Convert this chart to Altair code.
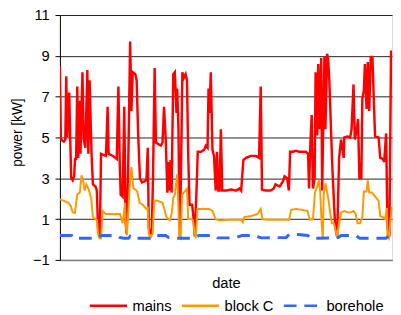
import altair as alt
import pandas as pd

# ---- data (hour index over two weeks, power in kW) ----
mains_hour = [
    0, 1, 4, 5.5, 6.5, 7.5, 9.5, 10.5, 11.5, 13,
    14.5, 15.5, 16.5, 17.7, 18.7, 19.7, 21, 23, 24.3, 26,
    28, 29, 30.3, 31.5, 32.3, 33.7, 36.3, 37.7, 39, 40.7,
    42, 47, 48.7, 49.7, 54, 58, 59.7, 61, 62, 64,
    65.7, 67, 68, 69.5, 71.7, 73, 74.3, 77, 78.3, 80,
    81.7, 83.7, 86.3, 88.3, 89.7, 90.7, 92, 93.7, 95, 96.7,
    98, 101.3, 103, 104.7, 106.3, 108, 109.7, 110.7, 111.7, 113,
    114, 115.7, 117.3, 119, 119.7, 121, 122.3, 123.5, 125, 126.3,
    128.3, 129.7, 131, 132.3, 135, 136.7, 137.7, 139.5, 140.7, 144,
    147.3, 149, 150.7, 151.7, 152.7, 154, 155.7, 157.3, 159, 160.3,
    161.7, 163, 164.3, 165.7, 170, 175, 180, 183.3, 185, 187.3,
    190, 195, 200, 203.3, 205, 206.3, 210, 215, 218.3, 220,
    224.3, 227.7, 229.3, 232, 233.7, 235, 237.7, 241, 244.3, 251,
    253.3, 254.3, 255.7, 257, 258.3, 260, 261, 262.7, 263.7, 265.3,
    266.7, 267.7, 268.7, 270, 271, 272.7, 273.7, 275, 276.7, 278.3,
    281, 283, 285, 287, 289.7, 290.3, 293.7, 296.3, 297.7, 299.7,
    301, 303, 304.3, 305.7, 307.7, 308.7, 310.3, 311.3, 313, 314.3,
    315.7, 317.3, 319, 320.3, 321.7, 325.3, 327, 329.7, 331, 333,
    334.3, 336.3, 338, 339,
]
mains_kw = [
    8.5, 4.9, 4.8, 4.9, 8.0, 5.0, 7.2, 5.0, 3.0, 2.9,
    3.1, 4.0, 3.9, 7.5, 4.0, 6.8, 4.2, 8.2, 4.9, 4.5,
    8.3, 4.2, 7.8, 5.6, 4.2, 2.7, 2.6, 2.4, 0.4, 0.1,
    4.2, 4.1, 6.5, 4.2, 4.1, 3.95, 7.5, 3.9, 2.2, 2.1,
    6.5, 0.9, 0.3, 3.0, 9.7, 6.3, 8.2, 8.1, 7.8, 5.0,
    3.0, 2.8, 2.85, 2.9, 4.5, 0.6, 0.3, 0.3, 3.0, 8.4,
    4.75, 4.65, 4.6, 4.75, 6.5, 4.9, 2.3, 3.8, 2.4, 3.9,
    2.3, 8.1, 8.2, 6.2, 7.4, 5.4, 0.2, 3.0, 8.2, 7.9,
    8.1, 7.8, 4.1, 1.7, 1.7, 0.9, 0.15, 2.5, 4.3, 4.3,
    4.4, 4.6, 4.5, 7.4, 6.2, 8.2, 4.4, 4.1, 2.4, 4.3,
    2.4, 2.4, 5.4, 2.4, 2.4, 2.45, 2.4, 2.5, 2.4, 3.9,
    4.0, 4.1, 4.1, 4.0, 7.5, 2.45, 2.4, 2.4, 2.5, 2.7,
    2.6, 2.85, 3.1, 3.0, 2.4, 4.3, 4.3, 4.35, 4.3, 4.3,
    4.2, 2.5, 4.75, 6.1, 2.5, 3.0, 8.2, 5.1, 8.6, 5.4,
    8.9, 2.4, 5.4, 8.95, 5.4, 9.1, 8.9, 7.8, 5.4, 3.3,
    0.6, 0.15, 4.0, 4.9, 4.0, 5.0, 5.05, 5.0, 5.4, 7.6,
    4.9, 5.4, 5.9, 3.0, 3.0, 6.9, 7.3, 8.6, 6.4, 8.7,
    6.3, 8.95, 8.95, 7.0, 5.05, 5.0, 4.0, 3.95, 3.8, 5.2,
    0.6, 0.15, 9.2, 9.2,
]

blockc_hour = [
    0, 3.7, 8.7, 11, 13, 15.3, 17.7, 20.3, 22, 23.7,
    25.3, 27, 29, 30.3, 32, 33.7, 36.3, 37.7, 39, 40.3,
    42, 43.7, 47, 50.3, 54.3, 58, 61.3, 63, 64, 65.3,
    66.3, 67.3, 68.3, 69.7, 71.3, 73, 75, 77, 79, 81.3,
    84.7, 88, 89.7, 90.7, 92.3, 94.7, 96.3, 99.7, 104.7, 106.3,
    108.7, 110.7, 112.3, 114, 115.7, 117.3, 119.7, 121, 121.7, 123.3,
    124.7, 127.3, 129.7, 131, 134, 135.7, 137.3, 138.7, 140.3, 144,
    149, 152.3, 155.7, 159, 162.3, 165.7, 175, 185, 186.7, 188.3,
    195, 201.7, 205, 206.7, 211.7, 222, 234, 236, 241, 247.7,
    252.7, 255, 258.3, 260.3, 262.7, 264.3, 265.7, 267, 268.3, 269.3,
    271, 272.7, 274.3, 276, 277.7, 279.7, 281.7, 283, 284.3, 287,
    290.3, 293.7, 297, 299.7, 302, 303.7, 306.3, 308.7, 310.3, 313,
    314.3, 315.7, 318.7, 322, 325.3, 327, 329.7, 332, 333.7, 334.3,
    335.7, 338.7, 339,
]
blockc_kw = [
    1.97, 1.9, 1.8, 1.65, 1.33, 1.3, 2.2, 2.3, 3.15, 2.85,
    2.4, 2.7, 2.5, 2.3, 2.0, 1.1, 1.0, 0.95, 0.3, 0.06,
    0.06, 1.4, 1.25, 1.25, 1.25, 1.25, 1.25, 1.0, 0.8, 1.25,
    1.8, 0.6, 0.2, 1.25, 2.7, 3.55, 2.5, 2.45, 2.35, 1.8,
    1.7, 1.5, 1.55, 0.3, 0.06, 0.3, 1.9, 1.9, 1.8, 1.55,
    1.1, 1.0, 0.95, 1.25, 2.05, 2.2, 3.2, 1.55, 0.15, 0.06,
    2.2, 2.35, 2.5, 1.0, 1.0, 0.95, 0.4, 0.06, 1.5, 1.5,
    1.5, 1.5, 1.4, 1.0, 0.95, 0.95, 0.97, 0.97, 0.85, 1.1,
    1.15, 1.25, 1.5, 1.0, 0.97, 0.97, 0.97, 1.45, 1.5, 1.45,
    1.4, 0.97, 1.0, 2.3, 2.6, 2.9, 2.35, 0.95, 0.06, 2.2,
    2.75, 2.35, 1.9, 1.25, 0.8, 0.8, 0.4, 0.06, 0.6, 1.33,
    1.4, 1.33, 1.33, 1.4, 1.25, 0.8, 0.8, 1.1, 2.35, 2.35,
    2.9, 2.3, 2.3, 2.1, 1.9, 1.15, 1.1, 1.0, 1.55, 0.15,
    0.06, 1.55, 1.6,
]

borehole_hour = [
    0, 12, 14, 37, 40, 43, 58, 61, 65, 70,
    71.5, 73, 94, 97, 99, 108, 111, 120, 134, 139,
    142, 158, 161, 177, 183, 186, 200, 203, 206, 231,
    234, 243, 253, 256, 278, 284, 287, 302, 306, 333,
    336, 339,
]
borehole_kw = [
    0.2, 0.2, 0.06, 0.06, 0.15, 0.2, 0.2, 0.1, 0.06, 0.06,
    0.15, 0.06, 0.06, 0.12, 0.2, 0.2, 0.1, 0.06, 0.06, 0.12,
    0.2, 0.2, 0.08, 0.08, 0.15, 0.2, 0.2, 0.12, 0.08, 0.1,
    0.25, 0.25, 0.2, 0.06, 0.08, 0.1, 0.2, 0.2, 0.06, 0.06,
    0.2, 0.2,
]

series_names = ["mains", "block C", "borehole"]
series_colors = ["#FF0000", "#FF9900", "#3366FF"]
series_dashes = [[1, 0], [1, 0], [13, 8]]
y_ticks = [-1, 1, 3, 5, 7, 9, 11]

df = pd.concat([
    pd.DataFrame({"hour": mains_hour, "kw": mains_kw, "series": "mains"}),
    pd.DataFrame({"hour": blockc_hour, "kw": blockc_kw, "series": "block C"}),
    pd.DataFrame({"hour": borehole_hour, "kw": borehole_kw, "series": "borehole"}),
], ignore_index=True)

FONT = "Liberation Sans"

legend = alt.Legend(
    title=None, orient="none", legendX=29, legendY=276, direction="horizontal",
    symbolType="stroke", symbolSize=1444, symbolStrokeWidth=2.5,
    labelFont=FONT, labelFontSize=15, labelColor="black",
    labelOffset=4, columnPadding=4, padding=0,
)

color = alt.Color("series:N",
                  scale=alt.Scale(domain=series_names, range=series_colors),
                  legend=legend)
dash = alt.StrokeDash("series:N",
                      scale=alt.Scale(domain=series_names, range=series_dashes),
                      legend=legend)

x = alt.X("hour:Q",
          scale=alt.Scale(domain=[0, 339], nice=False, zero=False),
          axis=alt.Axis(labels=False, ticks=False, grid=False, title="date",
                        titleFont=FONT, titleFontSize=15, titleFontWeight="normal",
                        titleColor="black", titlePadding=16,
                        domainColor="#808080", domainWidth=1.5))
y = alt.Y("kw:Q",
          scale=alt.Scale(domain=[-1, 11], nice=False, zero=False),
          axis=alt.Axis(values=y_ticks, title="power [kW]",
                        labelFont=FONT, labelFontSize=15, labelColor="black",
                        labelPadding=6, tickSize=5, tickColor="black",
                        domainColor="black", grid=True, gridColor="#222222",
                        gridWidth=1,
                        titleFont=FONT, titleFontSize=14, titleFontWeight="normal",
                        titleColor="black", titleX=-43, titleY=119.5,
                        titleAngle=270, titleAlign="center", titleBaseline="middle"))

base = alt.Chart(df).encode(x=x, y=y, color=color, strokeDash=dash)

layers = []
for name, w in zip(series_names, [2.5, 2.0, 3.0]):
    layers.append(base.transform_filter(alt.datum.series == name)
                  .mark_line(strokeWidth=w, clip=True))

chart = alt.layer(*layers).properties(
    width=339, height=250,
    autosize=alt.AutoSizeParams(type="none"),
    padding={"left": 53, "top": 4, "right": 1, "bottom": 52},
).configure_view(strokeWidth=0).configure(background="white")

chart.save("out.html", embed_options={"renderer": "svg", "actions": False})
